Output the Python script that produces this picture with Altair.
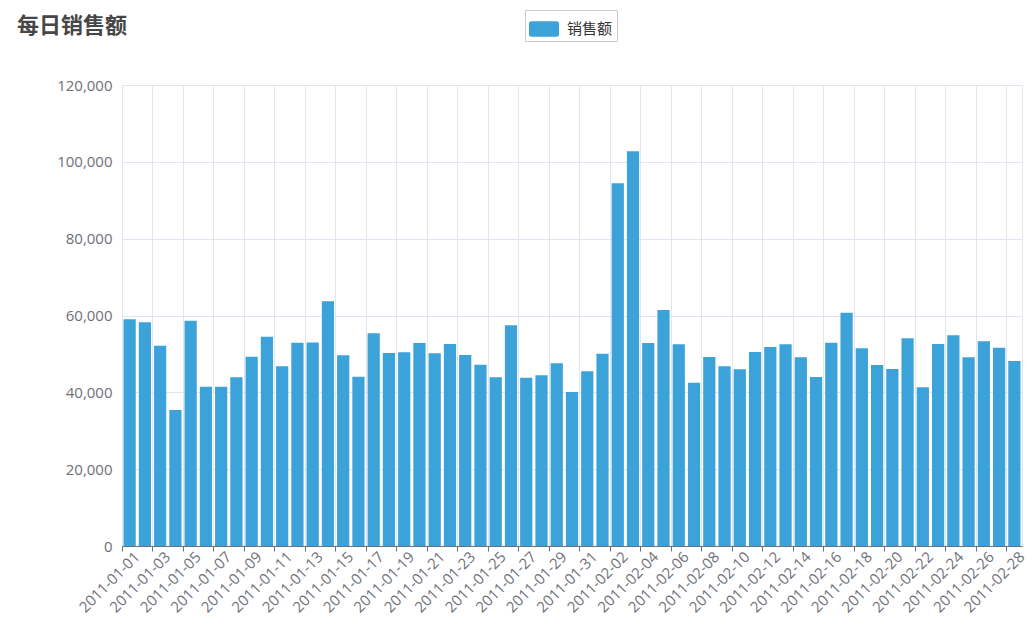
import altair as alt
import pandas as pd

dates = pd.date_range("2011-01-01", "2011-02-28").strftime("%Y-%m-%d").tolist()
sales = [
    59010, 58230, 52140, 35400, 58650, 41470, 41470, 43910, 49280, 54490,
    46770, 52920, 53000, 63690, 49630, 44080, 55360, 50240, 50410, 52840,
    50150, 52580, 49720, 47200, 43910, 57440, 43820, 44420, 47550, 40090,
    45470, 50060, 94410, 102740, 52840, 61430, 52490, 42520, 49200, 46770,
    45990, 50500, 51800, 52490, 49110, 43990, 52920, 60730, 51450, 47110,
    46070, 54060, 41300, 52580, 54840, 49110, 53280, 51620, 48160,
]
series_name = "销售额"
title_text = "每日销售额"
y_ticks = [0, 20000, 40000, 60000, 80000, 100000, 120000]

df = pd.DataFrame({"date": dates, "sales": sales, "series": series_name})

CJK = "Noto Sans CJK SC"
LAT = "Open Sans"
GRID = "#e0e6f1"
AXIS = "#6e7079"
BAR = "#3ba2da"

rounded = ("M-0.85,-0.52 L0.85,-0.52 A0.15,0.15 0 0 1 1,-0.37 L1,0.37 "
           "A0.15,0.15 0 0 1 0.85,0.52 L-0.85,0.52 A0.15,0.15 0 0 1 -1,0.37 "
           "L-1,-0.37 A0.15,0.15 0 0 1 -0.85,-0.52 Z")

chart = alt.Chart(df).mark_bar(width=alt.RelativeBandSize(0.8)).encode(
    x=alt.X(
        "date:O",
        sort=dates,
        scale=alt.Scale(paddingInner=0, paddingOuter=0),
        axis=alt.Axis(
            values=dates[::2],
            bandPosition=0,
            labelOffset=7.6,
            labelAngle=-45,
            labelAlign="right",
            labelBaseline="middle",
            labelFont=LAT,
            labelFontSize=15,
            labelColor=AXIS,
            labelPadding=3,
            labelLimit=300,
            tickSize=5,
            tickColor=AXIS,
            domainColor=AXIS,
            grid=True,
            gridColor=GRID,
            title=None,
        ),
    ),
    y=alt.Y(
        "sales:Q",
        scale=alt.Scale(domain=[0, 120000], nice=False),
        axis=alt.Axis(
            values=y_ticks,
            format=",.0f",
            domain=False,
            ticks=False,
            labelPadding=10,
            labelFont=LAT,
            labelFontSize=15,
            labelColor=AXIS,
            gridColor=GRID,
            title=None,
        ),
    ),
    color=alt.Color(
        "series:N",
        scale=alt.Scale(range=[BAR]),
        legend=alt.Legend(
            title=None,
            orient="none",
            legendX=403,
            legendY=-75,
            padding=4,
            strokeColor="#cccccc",
            symbolType=rounded,
            symbolSize=900,
            symbolStrokeWidth=0,
            labelOffset=8,
            labelFont=CJK,
            labelFontSize=15,
            labelColor="#333333",
        ),
    ),
).properties(
    width=900,
    height=461,
    title=alt.TitleParams(
        text=title_text,
        anchor="start",
        frame="group",
        dx=-105,
        dy=32,
        font=CJK,
        fontSize=22,
        fontWeight="bold",
        color="#464646",
    ),
    autosize=alt.AutoSizeParams(type="none"),
    padding={"left": 122, "top": 85, "right": 8, "bottom": 84},
).configure_view(stroke=GRID, strokeWidth=1)

chart.save("out.html", embed_options={"renderer": "svg", "actions": False})
